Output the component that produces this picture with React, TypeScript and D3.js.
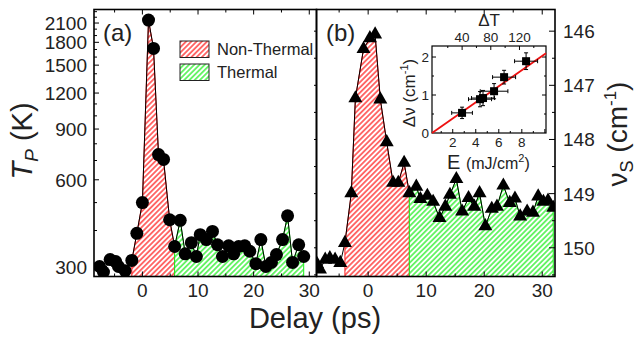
import * as d3 from "d3";
import React, { useRef, useEffect } from "react";

const W = 639;
const H = 338;
const font = "'Liberation Sans', Arial, sans-serif";

// frame of the two panels
const top = 9.5;
const bottom = 276.5;
const leftA = 94;
const mid = 316.5;
const rightB = 555;

// panel (a): T_P vs delay
const delayA = [-7.7, -7, -5.8, -4.8, -4.3, -3.1, -1.9, -1, 0, 1.1, 2, 2.9, 3.8, 4.9, 5.8, 6.8, 7.7, 8.8, 9.7, 10.4, 11.5, 12.6, 13.5, 14.4, 15.5, 16.4, 17.3, 18.4, 19.3, 20.4, 21.3, 22.2, 23.2, 24.1, 25.2, 26.1, 27, 28.1, 29];
const tempA = [300, 287, 317, 312, 300, 290, 315, 391, 500, 2150, 1715, 734, 706, 436, 352, 434, 332, 363, 325, 387, 372, 397, 357, 325, 354, 332, 352, 354, 339, 307, 372, 300, 310, 330, 372, 450, 310, 357, 325];
const nonThermalA = [-1.9, 5.8];
const thermalA = [5.8, 29];
const tempTicks = [300, 600, 900, 1200, 1500, 1800, 2100];

// panel (b): nu_S vs delay
const delayB = [-8.8, -8.3, -7.4, -6.6, -5.7, -4.8, -4, -2.9, -2.2, -0.8, 0.3, 1.2, 2.1, 3.2, 4.3, 5.2, 6.2, 7.1, 8.3, 9, 10.2, 11.2, 12.3, 13.3, 14.1, 15.2, 16.2, 17.3, 18.3, 19.2, 20.2, 21.3, 22.2, 23.3, 24.4, 25.3, 26.2, 27.4, 28.4, 29.3, 30.2, 31, 31.9];
const nuB = [150.3, 150.4, 150.22, 150.19, 150.22, 150.28, 149.91, 148.99, 147.24, 146.33, 146.13, 146.06, 147.26, 148.05, 148.8, 148.8, 148.43, 148.99, 148.87, 149.1, 149.04, 149.15, 149.45, 149.24, 149.02, 148.73, 149.33, 149.08, 149.24, 148.99, 149.6, 149.28, 149.24, 148.85, 149.17, 149.09, 149.42, 149.33, 149.35, 149.05, 149.15, 149.13, 149.26];
const nonThermalB = [-4, 7.1];
const thermalB = [7.1, 31.9];
const nuTicks = [146, 147, 148, 149, 150];

const delayTicks = [0, 10, 20, 30];

// inset: shift vs fluence
const fluence = [2.81, 4.37, 4.63, 5.59, 6.46, 8.37];
const fluenceErr = [0.9, 1.0, 1.0, 1.2, 1.0, 1.0];
const dNu = [0.53, 0.89, 0.92, 1.1, 1.47, 1.89];
const dNuErr = [0.15, 0.2, 0.2, 0.2, 0.18, 0.22];
const fitE = [0.2, 10.1];
const fitDnu = [0, 2.1];
const eTicks = [2, 4, 6, 8];
const dNuTicks = [0, 1, 2];
const dTTicks = [40, 80, 120];

const red = "#ff1a1a";
const green = "#1aee1a";

function App() {
  const ref = useRef(null);

  useEffect(() => {
    const svg = d3.select(ref.current);
    svg.selectAll("*").remove();

    const xA = d3.scaleLinear().domain([-8.7, 31.3]).range([leftA, mid]);
    const yA = d3.scaleLog().domain([277, 2340]).range([bottom, top]);
    const xB = d3.scaleLinear().domain([-8.9, 32.2]).range([mid, rightB]);
    const yB = d3.scaleLinear().domain([145.6, 150.53]).range([top, bottom]);

    const defs = svg.append("defs");
    const hatch = (id, color) => {
      const s = 3.7;
      const p = defs
        .append("pattern")
        .attr("id", id)
        .attr("patternUnits", "userSpaceOnUse")
        .attr("width", s)
        .attr("height", s)
        .attr("patternTransform", "rotate(45)");
      p.append("rect").attr("width", s).attr("height", s).attr("fill", "white");
      p.append("line")
        .attr("x1", s / 2)
        .attr("x2", s / 2)
        .attr("y1", 0)
        .attr("y2", s)
        .attr("stroke", color)
        .attr("stroke-width", 1.25);
    };
    hatch("hRed", red);
    hatch("hGreen", green);
    defs.append("clipPath").attr("id", "clipA").append("rect")
      .attr("x", leftA).attr("y", top).attr("width", mid - leftA).attr("height", bottom - top);
    defs.append("clipPath").attr("id", "clipB").append("rect")
      .attr("x", mid).attr("y", top).attr("width", rightB - mid).attr("height", bottom - top);

    svg.append("rect").attr("width", W).attr("height", H).attr("fill", "white");

    const panel = (clip, xs, ys, xsVals, ysVals, ranges, marker) => {
      const g = svg.append("g").attr("clip-path", `url(#${clip})`);
      const pts = xsVals.map((d, i) => [d, ysVals[i]]);
      const area = d3.area().x((d) => xs(d[0])).y0(bottom).y1((d) => ys(d[1]));
      ranges.forEach(([r, fill, stroke]) => {
        const sub = pts.filter((d) => d[0] >= r[0] - 0.01 && d[0] <= r[1] + 0.01);
        g.append("path")
          .attr("d", area(sub))
          .attr("fill", `url(#${fill})`)
          .attr("stroke", stroke)
          .attr("stroke-width", 1);
      });
      g.append("path")
        .attr("d", d3.line().x((d) => xs(d[0])).y((d) => ys(d[1]))(pts))
        .attr("fill", "none")
        .attr("stroke", "black")
        .attr("stroke-width", 1);
      marker(g, pts);
    };

    panel("clipA", xA, yA, delayA, tempA, [[nonThermalA, "hRed", red], [thermalA, "hGreen", green]], (g, pts) => {
      g.selectAll("circle").data(pts).enter().append("circle")
        .attr("cx", (d) => xA(d[0])).attr("cy", (d) => yA(d[1])).attr("r", 6.5).attr("fill", "black");
    });
    panel("clipB", xB, yB, delayB, nuB, [[nonThermalB, "hRed", red], [thermalB, "hGreen", green]], (g, pts) => {
      const tri = d3.symbol().type(d3.symbolTriangle).size(85);
      g.selectAll(".tri").data(pts).enter().append("path")
        .attr("d", tri)
        .attr("transform", (d) => `translate(${xB(d[0])},${yB(d[1])})`)
        .attr("fill", "black");
    });

    // frames
    svg.append("rect").attr("x", leftA).attr("y", top).attr("width", mid - leftA).attr("height", bottom - top)
      .attr("fill", "none").attr("stroke", "black").attr("stroke-width", 1.6);
    svg.append("rect").attr("x", mid).attr("y", top).attr("width", rightB - mid).attr("height", bottom - top)
      .attr("fill", "none").attr("stroke", "black").attr("stroke-width", 1.6);

    const tick = (x1, y1, x2, y2, w = 1) =>
      svg.append("line").attr("x1", x1).attr("y1", y1).attr("x2", x2).attr("y2", y2)
        .attr("stroke", "black").attr("stroke-width", w);

    // delay ticks on both panels (major 10, minor 5)
    [[xA, -5, 30], [xB, -5, 30]].forEach(([xs, a, b]) => {
      for (let v = a; v <= b; v += 5) {
        const len = v % 10 === 0 ? 5 : 3;
        tick(xs(v), bottom, xs(v), bottom - len);
        tick(xs(v), top, xs(v), top + len);
      }
    });

    // temperature ticks every 100 K
    for (let v = 300; v <= 2300; v += 100) {
      const len = tempTicks.includes(v) ? 5 : 3;
      tick(leftA, yA(v), leftA + len, yA(v));
    }
    // nu ticks every 0.5
    for (let v = 146; v <= 150.5; v += 0.5) {
      const len = Number.isInteger(v) ? 6 : 3;
      tick(rightB, yB(v), rightB - len, yB(v));
      tick(mid, yB(v), mid - 2.5, yB(v));
    }

    const text = (x, y, str, size, anchor = "start") =>
      svg.append("text").attr("x", x).attr("y", y).attr("font-family", font)
        .attr("font-size", size).attr("fill", "#222").attr("text-anchor", anchor).text(str);

    delayTicks.forEach((v) => {
      text(xA(v), 297, v, 19, "middle");
      text(xB(v), 297, v, 19, "middle");
    });
    tempTicks.forEach((v) => text(87, yA(v) + 7, v, 19, "end"));
    nuTicks.forEach((v) => text(563, yB(v) + 7, v, 19, "start"));

    text(103, 41, "(a)", 24);
    text(326, 41, "(b)", 24);
    text(315, 328, "Delay (ps)", 29, "middle");

    // legend
    [["hRed", "Non-Thermal", 41], ["hGreen", "Thermal", 64]].forEach(([fill, label, y]) => {
      svg.append("rect").attr("x", 180).attr("y", y).attr("width", 29).attr("height", 16.5)
        .attr("fill", `url(#${fill})`).attr("stroke", "#222").attr("stroke-width", 1);
      text(217, y + 14, label, 16.5);
    });

    // axis titles
    const tp = svg.append("text").attr("transform", "translate(32,141) rotate(-90)")
      .attr("text-anchor", "middle").attr("font-family", font).attr("fill", "#222").attr("font-size", 29);
    tp.append("tspan").attr("font-style", "italic").text("T");
    tp.append("tspan").attr("font-style", "italic").attr("font-size", 19).attr("dy", 6).text("P");
    tp.append("tspan").attr("dy", -6).text(" (K)");

    const nu = svg.append("text").attr("transform", "translate(627,134) rotate(-90)")
      .attr("text-anchor", "middle").attr("font-family", font).attr("fill", "#222").attr("font-size", 28);
    nu.append("tspan").text("ν");
    nu.append("tspan").attr("font-size", 18).attr("dy", 6).text("S");
    nu.append("tspan").attr("dy", -6).text(" (cm");
    nu.append("tspan").attr("font-size", 17).attr("dy", -11).text("-1");
    nu.append("tspan").attr("dy", 11).text(")");

    // inset
    const iL = 432, iR = 546, iT = 46, iB = 133;
    const xE = d3.scaleLinear().domain([0.2, 10.1]).range([iL, iR]);
    const xT = d3.scaleLinear().domain([-2, 157]).range([iL, iR]);
    const yD = d3.scaleLinear().domain([0, 2.29]).range([iB, iT]);

    svg.append("rect").attr("x", iL).attr("y", iT).attr("width", iR - iL).attr("height", iB - iT)
      .attr("fill", "white").attr("stroke", "black").attr("stroke-width", 1.2);

    for (let v = 1; v <= 10; v += 1) {
      const len = v % 2 === 0 ? 4 : 2;
      tick(xE(v), iB, xE(v), iB - len);
    }
    for (let v = 20; v <= 150; v += 20) {
      const len = v % 40 === 0 ? 4 : 2;
      tick(xT(v), iT, xT(v), iT + len);
    }
    for (let v = 0.5; v <= 2.2; v += 0.5) {
      const len = Number.isInteger(v) ? 4 : 2;
      tick(iL, yD(v), iL + len, yD(v));
      tick(iR, yD(v), iR - len, yD(v));
    }

    svg.append("path")
      .attr("d", d3.line().x((d) => xE(d[0])).y((d) => yD(d[1]))(fitE.map((e, i) => [e, fitDnu[i]])))
      .attr("stroke", "#ee1111").attr("stroke-width", 1.8).attr("fill", "none");

    fluence.forEach((e, i) => {
      const cx = xE(e), cy = yD(dNu[i]);
      const x0 = xE(e - fluenceErr[i]), x1 = xE(e + fluenceErr[i]);
      const y0 = yD(dNu[i] - dNuErr[i]), y1 = yD(dNu[i] + dNuErr[i]);
      tick(x0, cy, x1, cy);
      tick(x0, cy - 2, x0, cy + 2);
      tick(x1, cy - 2, x1, cy + 2);
      tick(cx, y0, cx, y1);
      tick(cx - 2, y0, cx + 2, y0);
      tick(cx - 2, y1, cx + 2, y1);
      svg.append("rect").attr("x", cx - 4).attr("y", cy - 4).attr("width", 8).attr("height", 8).attr("fill", "black");
    });

    eTicks.forEach((v) => text(xE(v), 147, v, 13.5, "middle"));
    dTTicks.forEach((v) => text(xT(v), 42, v, 13.5, "middle"));
    dNuTicks.forEach((v) => text(429, yD(v) + 5, v, 13.5, "end"));
    text(489, 26, "ΔT", 17, "middle");

    const dv = svg.append("text").attr("transform", "translate(415,93) rotate(-90)")
      .attr("text-anchor", "middle").attr("font-family", font).attr("fill", "#222").attr("font-size", 17);
    dv.append("tspan").text("Δν (cm");
    dv.append("tspan").attr("font-size", 11).attr("dy", -7).text("-1");
    dv.append("tspan").attr("dy", 7).text(")");

    const el = svg.append("text").attr("x", 447).attr("y", 169).attr("font-family", font).attr("fill", "#222").attr("font-size", 20);
    el.append("tspan").text("E ");
    el.append("tspan").attr("font-size", 16).text("(mJ/cm");
    el.append("tspan").attr("font-size", 11).attr("dy", -7).text("2");
    el.append("tspan").attr("font-size", 16).attr("dy", 7).text(")");
  }, []);

  return (
    <svg
      ref={ref}
      width={W}
      height={H}
      style={{ position: "absolute", left: 0, top: 0, display: "block" }}
    ></svg>
  );
}

export default App;
